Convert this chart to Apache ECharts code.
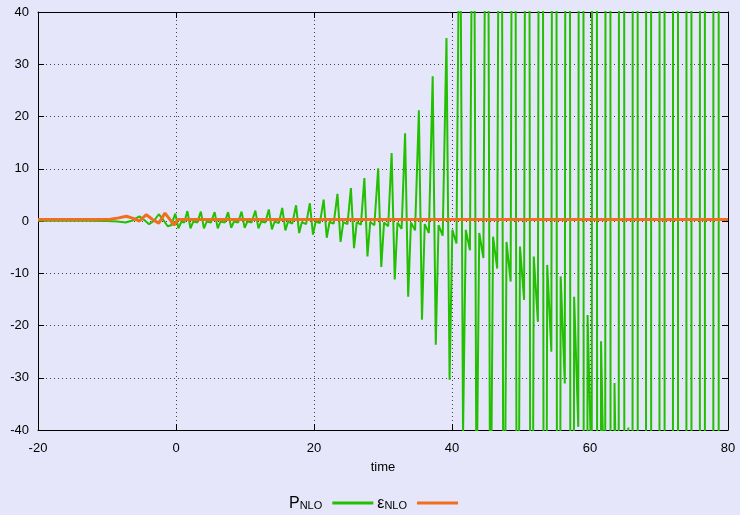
<!DOCTYPE html>
<html>
<head>
<meta charset="utf-8">
<script src="https://cdn.jsdelivr.net/npm/echarts@6/dist/echarts.min.js"></script>
<style>
    html, body { margin: 0; padding: 0; background: #e6e6fa; }
    #chart { width: 740px; height: 515px; }
</style>
</head>
<body>
<div id="chart"></div>
<script>
// P_NLO : time / value (one line per period after t=0)
const pTime = [
    -20, -13, -10, -8.5, -7.3, -6.3, -5.3, -4.6, -3.9, -3.2, -2.5, -1.9, -1.2, -0.7, -0.1, 0.35, 0.8, 1.2,
    1.65, 2.10, 2.50, 3.10,
    3.60, 4.05, 4.45, 5.05,
    5.60, 6.05, 6.45, 7.05,
    7.55, 8.00, 8.40, 9.00,
    9.50, 9.95, 10.35, 10.95,
    11.50, 11.95, 12.35, 12.95,
    13.45, 13.90, 14.30, 14.90,
    15.40, 15.85, 16.25, 16.85,
    17.40, 17.85, 18.25, 18.85,
    19.40, 19.85, 20.25, 20.85,
    21.40, 21.85, 22.25, 22.85,
    23.40, 23.85, 24.25, 24.85,
    25.35, 25.80, 26.20, 26.80,
    27.30, 27.75, 28.15, 28.75,
    29.30, 29.75, 30.15, 30.75,
    31.25, 31.70, 32.10, 32.70,
    33.20, 33.65, 34.05, 34.65,
    35.20, 35.65, 36.05, 36.65,
    37.20, 37.65, 38.05, 38.65,
    39.20, 39.65, 40.05, 40.65,
    41.15, 41.60, 42.00, 42.60,
    43.10, 43.55, 43.95, 44.55,
    45.10, 45.55, 45.95, 46.55,
    47.05, 47.50, 47.90, 48.50,
    49.00, 49.45, 49.85, 50.45,
    51.00, 51.45, 51.85, 52.45,
    52.95, 53.40, 53.80, 54.40,
    54.90, 55.35, 55.75, 56.35,
    56.85, 57.30, 57.70, 58.30,
    58.80, 59.25, 59.65, 60.25,
    60.75, 61.20, 61.60, 62.20,
    62.70, 63.15, 63.55, 64.15,
    64.70, 65.15, 65.55, 66.15,
    66.65, 67.10, 67.50, 68.10,
    68.60, 69.05, 69.45, 70.05,
    70.55, 71.00, 71.40, 72.00,
    72.50, 72.95, 73.35, 73.95,
    74.45, 74.90, 75.30, 75.90,
    76.40, 76.85, 77.25, 77.85,
    78.40, 78.85
]
const pValue = [
    0.05, 0.05, 0.0, -0.1, -0.3, 0.1, 0.9, 0.2, -0.6, 0.0, 1.3, 0.3, -1.0, -0.8, 1.4, -1.4, -0.1, -0.3,
    1.9, -1.4, -0.1, -0.3,
    1.8, -1.4, -0.1, -0.3,
    1.7, -1.4, -0.1, -0.3,
    1.7, -1.3, -0.1, -0.3,
    1.8, -1.3, -0.1, -0.3,
    2.0, -1.4, -0.1, -0.3,
    2.2, -1.6, -0.1, -0.4,
    2.5, -1.8, -0.1, -0.5,
    3.0, -2.3, -0.2, -0.6,
    3.4, -2.6, -0.1, -0.4,
    4.1, -3.2, -0.2, -0.5,
    5.2, -4.0, -0.2, -0.6,
    6.3, -5.2, -0.2, -0.7,
    8.2, -6.8, -0.2, -0.8,
    10.1, -8.8, -0.3, -1.0,
    13.0, -11.2, -0.3, -1.5,
    16.8, -14.5, -0.3, -1.8,
    21.2, -18.9, -0.6, -2.3,
    27.7, -23.7, -0.8, -2.8,
    35.0, -30.4, -1.7, -4.3,
    75, -41, -1.7, -5.6,
    100, -55, -2.3, -7.1,
    130, -72, -3.0, -9.1,
    165, -95, -4.0, -11.6,
    210, -125, -4.9, -15.1,
    270, -165, -6.8, -19.3,
    345, -215, -8.4, -25.0,
    440, -280, -10.6, -31.1,
    560, -365, -14.5, -39.4,
    715, -475, -18, -50,
    910, -620, -23, -64,
    1160, -800, -31, -82,
    1480, -1040, -39.5, -104,
    1890, -1350, -50, -133,
    2410, -1750, -64, -170,
    3070, -2280, -82, -216,
    3920, -2960, -104, -275,
    5000, -3850, -133, -350,
    6380, -5000, -170, -446,
    8140, -6500
]

// ε_NLO
const eTime = [-20, -12, -9.5, -8.3, -7.2, -6.2, -5.3, -4.3, -3.4, -2.5, -1.6, -0.9, -0.3, 0.3, 80]
const eValue = [0.3, 0.3, 0.35, 0.6, 0.9, 0.5, 0.0, 1.2, 0.3, -0.4, 1.5, 0.3, -0.8, 0.3, 0.3]

const xTicks = { min: -20, max: 80, interval: 20 }
const yTicks = { min: -40, max: 40, interval: 10 }

function zip(ts, vs) {
    return ts.map((t, i) => [t, vs[i]])
}

const chart = echarts.init(document.getElementById('chart'))

const font = 'Liberation Sans, Arial, sans-serif'
const dotted = { color: '#444', width: 1, type: [1, 3] }
const frame = { show: true, onZero: false, lineStyle: { color: '#000', width: 1 } }
const tick = { show: true, inside: true, length: 6, lineStyle: { color: '#000' } }

const option = {
    backgroundColor: '#e6e6fa',
    animation: false,
    grid: { left: 38, right: 12, top: 12, bottom: 85, containLabel: false },
    textStyle: { fontFamily: font },
    xAxis: [
        {
            type: 'value',
            ...xTicks,
            name: 'time',
            nameLocation: 'middle',
            nameGap: 31,
            nameTextStyle: { color: '#000', fontSize: 13, fontFamily: font },
            axisLine: frame,
            axisTick: tick,
            axisLabel: { color: '#000', fontSize: 13, margin: 12, fontFamily: font },
            splitLine: { show: true, lineStyle: dotted }
        },
        {
            type: 'value',
            position: 'top',
            ...xTicks,
            axisLine: frame,
            axisTick: tick,
            axisLabel: { show: false },
            splitLine: { show: false }
        }
    ],
    yAxis: [
        {
            type: 'value',
            ...yTicks,
            axisLine: frame,
            axisTick: tick,
            axisLabel: { color: '#000', fontSize: 13, margin: 9, fontFamily: font },
            splitLine: { show: true, lineStyle: dotted }
        },
        {
            type: 'value',
            position: 'right',
            ...yTicks,
            axisLine: frame,
            axisTick: tick,
            axisLabel: { show: false },
            splitLine: { show: false }
        }
    ],
    legend: {
        left: 284,
        top: 483,
        align: 'right',
        icon: 'rect',
        itemWidth: 41,
        itemHeight: 3,
        itemGap: 4,
        data: ['P_NLO', 'ε_NLO'],
        formatter: function (name) {
            return name === 'P_NLO' ? '{b|P}{s|NLO}' : '{b|ε}{s|NLO}'
        },
        textStyle: {
            color: '#000',
            fontFamily: font,
            rich: {
                b: { fontSize: 16, lineHeight: 16, verticalAlign: 'top', padding: [1, 0, 0, 0], fontFamily: font },
                s: { fontSize: 11, lineHeight: 11, verticalAlign: 'bottom', padding: [12, 5, 0, 0], fontFamily: font }
            }
        }
    },
    series: [
        {
            name: 'P_NLO',
            type: 'line',
            xAxisIndex: 0,
            yAxisIndex: 0,
            data: zip(pTime, pValue),
            symbol: 'none',
            clip: true,
            lineStyle: { color: '#22c000', width: 2 },
            itemStyle: { color: '#22c000' }
        },
        {
            name: 'ε_NLO',
            type: 'line',
            xAxisIndex: 0,
            yAxisIndex: 0,
            data: zip(eTime, eValue),
            symbol: 'none',
            clip: true,
            lineStyle: { color: '#f06e1e', width: 3 },
            itemStyle: { color: '#f06e1e' }
        }
    ]
}

chart.setOption(option)
</script>
</body>
</html>
